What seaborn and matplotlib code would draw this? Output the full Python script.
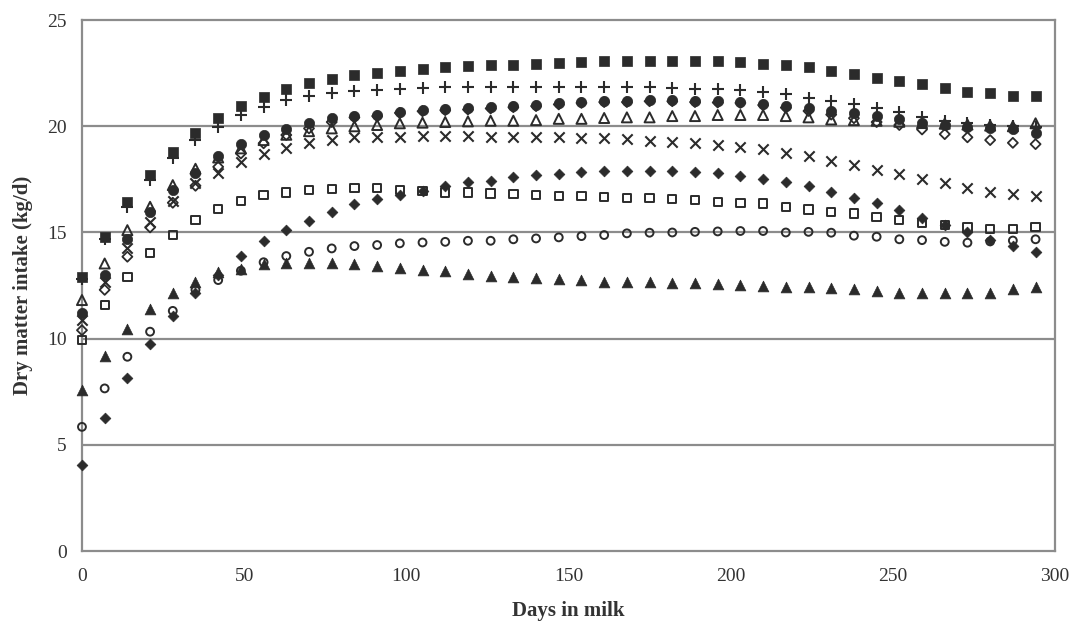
import seaborn as sns
import pandas as pd
import matplotlib.pyplot as plt

days = [0, 7, 14, 21, 28, 35, 42, 49, 56, 63, 70, 77, 84, 91, 98, 105, 112, 119, 126, 133, 140, 147,
        154, 161, 168, 175, 182, 189, 196, 203, 210, 217, 224, 231, 238, 245, 252, 259, 266, 273, 280, 287, 294]

square_filled = [12.9, 14.8, 16.45, 17.7, 18.8, 19.7, 20.37, 20.95, 21.39, 21.77, 22.05, 22.24, 22.41, 22.52,
                 22.61, 22.68, 22.77, 22.83, 22.9, 22.9, 22.94, 22.99, 23.04, 23.08, 23.08, 23.08, 23.08, 23.08,
                 23.07, 23.04, 22.93, 22.88, 22.77, 22.6, 22.46, 22.28, 22.13, 21.97, 21.78, 21.62, 21.55, 21.44, 21.44]
plus = [12.8, 14.7, 16.2, 17.47, 18.53, 19.35, 19.98, 20.53, 20.89, 21.23, 21.42, 21.55, 21.66, 21.7,
        21.75, 21.78, 21.83, 21.86, 21.86, 21.86, 21.86, 21.86, 21.86, 21.86, 21.86, 21.86, 21.8, 21.75,
        21.74, 21.7, 21.62, 21.52, 21.31, 21.2, 21.05, 20.84, 20.68, 20.45, 20.26, 20.14, 20.06, 20.0, 19.95]
circle_filled = [11.2, 13.0, 14.68, 15.97, 17.0, 17.8, 18.6, 19.16, 19.59, 19.85, 20.14, 20.37, 20.5, 20.53,
                 20.68, 20.76, 20.81, 20.84, 20.89, 20.95, 21.0, 21.08, 21.15, 21.19, 21.19, 21.23, 21.23, 21.19,
                 21.17, 21.15, 21.05, 20.95, 20.84, 20.73, 20.61, 20.48, 20.32, 20.14, 20.06, 19.98, 19.9, 19.85, 19.69]
triangle_open = [11.82, 13.54, 15.11, 16.21, 17.23, 18.0, 18.53, 18.96, 19.35, 19.6, 19.77, 19.9, 20.0, 20.06,
                 20.14, 20.17, 20.2, 20.23, 20.26, 20.26, 20.29, 20.35, 20.35, 20.39, 20.42, 20.42, 20.48, 20.48,
                 20.53, 20.53, 20.53, 20.48, 20.42, 20.32, 20.29, 20.26, 20.21, 20.15, 20.12, 20.08, 20.03, 20.0, 20.14]
cross = [10.88, 12.66, 14.25, 15.5, 16.5, 17.31, 17.78, 18.3, 18.69, 18.96, 19.19, 19.35, 19.48, 19.51,
         19.51, 19.54, 19.54, 19.54, 19.51, 19.51, 19.51, 19.48, 19.43, 19.43, 19.38, 19.32, 19.27, 19.19,
         19.11, 19.03, 18.91, 18.72, 18.6, 18.36, 18.17, 17.94, 17.75, 17.51, 17.31, 17.08, 16.92, 16.79, 16.73]
diamond_open = [10.4, 12.3, 13.86, 15.24, 16.4, 17.2, 18.09, 18.72, 19.2, 19.59, 19.9, 20.2, 20.42, 20.48,
                20.63, 20.71, 20.76, 20.79, 20.84, 20.9, 20.95, 21.03, 21.1, 21.14, 21.14, 21.18, 21.18, 21.14,
                21.12, 21.1, 21.0, 20.88, 20.72, 20.55, 20.38, 20.2, 20.06, 19.85, 19.63, 19.48, 19.35, 19.22, 19.16]
diamond_filled = [4.05, 6.28, 8.13, 9.73, 11.06, 12.13, 13.0, 13.89, 14.61, 15.11, 15.55, 15.97, 16.32, 16.56,
                  16.76, 16.96, 17.2, 17.36, 17.43, 17.59, 17.7, 17.75, 17.86, 17.9, 17.9, 17.9, 17.89, 17.86,
                  17.78, 17.67, 17.51, 17.39, 17.18, 16.89, 16.63, 16.37, 16.05, 15.69, 15.35, 15.03, 14.64, 14.36, 14.09]
square_open = [9.93, 11.58, 12.92, 14.02, 14.88, 15.58, 16.1, 16.48, 16.76, 16.89, 17.0, 17.04, 17.08, 17.08,
               17.0, 16.96, 16.89, 16.89, 16.84, 16.81, 16.76, 16.73, 16.71, 16.68, 16.63, 16.61, 16.57, 16.53,
               16.45, 16.4, 16.37, 16.21, 16.09, 15.97, 15.9, 15.74, 15.58, 15.46, 15.35, 15.24, 15.16, 15.16, 15.27]
circle_open = [5.85, 7.66, 9.15, 10.33, 11.31, 12.3, 12.76, 13.2, 13.6, 13.89, 14.09, 14.25, 14.36, 14.41,
               14.49, 14.53, 14.56, 14.61, 14.61, 14.68, 14.72, 14.77, 14.83, 14.88, 14.96, 14.99, 15.0, 15.03,
               15.05, 15.07, 15.07, 15.0, 15.03, 14.99, 14.85, 14.8, 14.68, 14.64, 14.56, 14.52, 14.58, 14.62, 14.68]
triangle_filled = [7.58, 9.18, 10.44, 11.38, 12.13, 12.65, 13.15, 13.28, 13.54, 13.57, 13.57, 13.57, 13.51, 13.42,
                   13.31, 13.23, 13.18, 13.03, 12.95, 12.89, 12.84, 12.79, 12.76, 12.68, 12.68, 12.65, 12.6, 12.6,
                   12.57, 12.52, 12.48, 12.44, 12.42, 12.37, 12.32, 12.26, 12.16, 12.13, 12.13, 12.13, 12.16, 12.32, 12.44]

x_ticks = [0, 50, 100, 150, 200, 250, 300]
y_ticks = [0, 5, 10, 15, 20, 25]

dark = '#2b2b2b'
grey = '#8c8c8c'

# values, marker, filled?, size, line width
styles = [
    (triangle_filled, '^', True, 60, 0.5),
    (circle_open, 'o', False, 32, 1.4),
    (square_open, 's', False, 36, 1.4),
    (diamond_filled, 'D', True, 30, 0.5),
    (diamond_open, 'D', False, 26, 1.3),
    (cross, 'x', True, 55, 1.5),
    (triangle_open, '^', False, 52, 1.4),
    (circle_filled, 'o', True, 55, 0.5),
    (plus, '+', True, 80, 1.5),
    (square_filled, 's', True, 46, 0.5),
]

sns.set_style('white')
plt.rcParams['font.family'] = ['Liberation Serif', 'DejaVu Serif']

fig = plt.figure(figsize=(10.7, 6.27), dpi=100)
ax = fig.add_axes([0.0766, 0.121, 0.9094, 0.847])

for vals, m, filled, size, lw in styles:
    df = pd.DataFrame({'day': days, 'dmi': vals})
    if filled:
        sns.scatterplot(data=df, x='day', y='dmi', ax=ax, marker=m, s=size, color=dark,
                        edgecolor=dark, linewidth=lw, zorder=3, clip_on=False)
    else:
        sns.scatterplot(data=df, x='day', y='dmi', ax=ax, marker=m, s=size,
                        facecolors='none', edgecolors=dark, linewidth=lw, zorder=3, clip_on=False)
        ax.collections[-1].set_facecolor('none')
        ax.collections[-1].set_edgecolor(dark)

for y in y_ticks[1:-1]:
    ax.axhline(y, color=grey, lw=1.6, zorder=1)

ax.set_xlim(0, 300)
ax.set_ylim(0, 25)
ax.set_xticks(x_ticks)
ax.set_yticks(y_ticks)
for s in ax.spines.values():
    s.set_color(grey)
    s.set_linewidth(1.6)
ax.tick_params(axis='x', direction='inout', length=8, width=1.3, color=grey, labelsize=14, pad=8)
ax.tick_params(axis='y', direction='out', length=7, width=1.3, color=grey, labelsize=14, pad=4)
for t in ax.get_xticklabels() + ax.get_yticklabels():
    t.set_color('#333333')

ax.set_xlabel('Days in milk', fontsize=15, fontweight='bold', color='#333333', labelpad=12)
ax.set_ylabel('Dry matter intake (kg/d)', fontsize=15, fontweight='bold', color='#333333', labelpad=10)

fig.savefig('out.png', dpi=100)
